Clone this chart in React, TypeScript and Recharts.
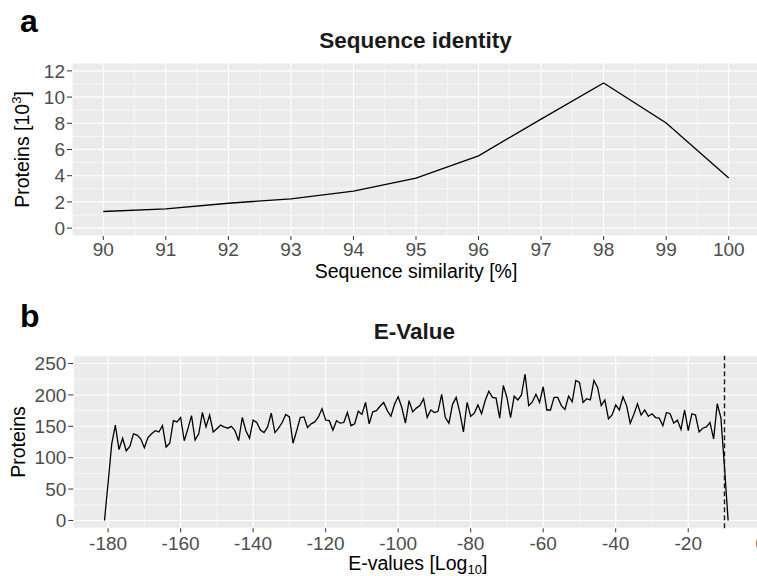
import React from 'react';
import { LineChart, Line, XAxis, YAxis, CartesianGrid, ReferenceLine, Label } from 'recharts';

const FONT = '"Liberation Sans", Arial, Helvetica, sans-serif';

// Panel a: Sequence identity
const seqSimilarity = [90, 91, 92, 93, 94, 95, 96, 97, 98, 99, 100];
const proteinsThousands = [1.27, 1.47, 1.9, 2.24, 2.82, 3.82, 5.52, 8.32, 11.07, 8.02, 3.82];
const seqXTicks = [90, 91, 92, 93, 94, 95, 96, 97, 98, 99, 100];
const seqXMinor = [90.5, 91.5, 92.5, 93.5, 94.5, 95.5, 96.5, 97.5, 98.5, 99.5];
const seqYTicks = [0, 2, 4, 6, 8, 10, 12];
const seqYMinor = [1, 3, 5, 7, 9, 11];

// Panel b: E-Value
const eLog = [
  -181, -180, -179, -178, -177, -176, -175, -174, -173, -172,
  -171, -170, -169, -168, -167, -166, -165, -164, -163, -162,
  -161, -160, -159, -158, -157, -156, -155, -154, -153, -152,
  -151, -150, -149, -148, -147, -146, -145, -144, -143, -142,
  -141, -140, -139, -138, -137, -136, -135, -134, -133, -132,
  -131, -130, -129, -128, -127, -126, -125, -124, -123, -122,
  -121, -120, -119, -118, -117, -116, -115, -114, -113, -112,
  -111, -110, -109, -108, -107, -106, -105, -104, -103, -102,
  -101, -100, -99, -98, -97, -96, -95, -94, -93, -92,
  -91, -90, -89, -88, -87, -86, -85, -84, -83, -82,
  -81, -80, -79, -78, -77, -76, -75, -74, -73, -72,
  -71, -70, -69, -68, -67, -66, -65, -64, -63, -62,
  -61, -60, -59, -58, -57, -56, -55, -54, -53, -52,
  -51, -50, -49, -48, -47, -46, -45, -44, -43, -42,
  -41, -40, -39, -38, -37, -36, -35, -34, -33, -32,
  -31, -30, -29, -28, -27, -26, -25, -24, -23, -22,
  -21, -20, -19, -18, -17, -16, -15, -14, -13, -12,
  -11, -10, -9,
];
const eProteins = [
  0, 60, 122, 152, 113, 131, 111, 118, 138, 136,
  130, 116, 132, 138, 143, 141, 151, 117, 123, 159,
  157, 164, 127, 146, 167, 128, 138, 172, 149, 168,
  141, 146, 152, 149, 147, 150, 143, 127, 164, 143,
  131, 160, 156, 144, 140, 149, 171, 140, 147, 156,
  169, 165, 123, 143, 164, 165, 148, 154, 157, 165,
  178, 160, 159, 144, 159, 155, 156, 172, 151, 154,
  174, 169, 188, 154, 173, 175, 182, 188, 175, 166,
  185, 197, 180, 155, 191, 173, 179, 183, 194, 164,
  176, 172, 174, 201, 164, 155, 185, 196, 172, 141,
  188, 166, 171, 184, 170, 191, 206, 196, 195, 163,
  215, 196, 164, 198, 192, 200, 233, 183, 189, 201,
  188, 213, 176, 176, 196, 196, 183, 177, 198, 189,
  223, 220, 188, 194, 192, 223, 212, 183, 192, 162,
  168, 184, 176, 197, 183, 155, 169, 186, 168, 176,
  166, 170, 164, 163, 151, 172, 170, 155, 160, 145,
  176, 143, 170, 168, 141, 147, 149, 156, 130, 186,
  164, 85, 0,
];
const eXTicks = [-180, -160, -140, -120, -100, -80, -60, -40, -20, 0];
const eXMinor = [-170, -150, -130, -110, -90, -70, -50, -30, -10];
const eYTicks = [0, 50, 100, 150, 200, 250];
const eYMinor = [25, 75, 125, 175, 225];
const eCutoff = -10;

const seqData = seqSimilarity.map((x, i) => ({ x, y: proteinsThousands[i] }));
const eData = eLog.map((x, i) => ({ x, y: eProteins[i] }));

const PANEL_BG = '#EBEBEB';
const TICK_TEXT = { fill: '#4D4D4D', fontSize: 19, fontFamily: FONT };
const TICK_LINE = { stroke: '#333333', strokeWidth: 1 };

function minorLines(vals: number[], axis: 'x' | 'y') {
  return vals.map((v) =>
    axis === 'x' ? (
      <ReferenceLine key={'mx' + v} x={v} stroke="#FFFFFF" strokeWidth={0.6} zIndex={-50} />
    ) : (
      <ReferenceLine key={'my' + v} y={v} stroke="#FFFFFF" strokeWidth={0.6} zIndex={-50} />
    )
  );
}

export default function App() {
  return (
    <div
      style={{
        position: 'absolute',
        left: 0,
        top: 0,
        width: 757,
        height: 576,
        overflow: 'hidden',
        background: '#FFFFFF',
        fontFamily: FONT,
      }}
    >
      <div style={{ position: 'absolute', left: 0, top: 0 }}>
        <LineChart width={770} height={290} data={seqData} margin={{ top: 63, right: 10, bottom: 0, left: 0 }}>
          <CartesianGrid fill={PANEL_BG} stroke="#FFFFFF" strokeWidth={1.1} strokeDasharray="" />
          {minorLines(seqXMinor, 'x')}
          {minorLines(seqYMinor, 'y')}
          <XAxis
            dataKey="x"
            type="number"
            domain={[89.5, 100.5]}
            ticks={seqXTicks}
            interval={0}
            allowDataOverflow
            height={54}
            axisLine={false}
            tickLine={TICK_LINE}
            tickSize={4}
            tickMargin={3}
            tick={TICK_TEXT}
          >
            <Label
              content={(props: any) => {
                const vb = props.viewBox || { x: 72, y: 236, width: 688 };
                return (
                  <text x={vb.x + vb.width / 2} y={vb.y + 42} textAnchor="middle" fontSize={19.5} fontFamily={FONT} fill="#000">
                    Sequence similarity [%]
                  </text>
                );
              }}
            />
          </XAxis>
          <YAxis
            type="number"
            domain={[-0.6, 12.6]}
            ticks={seqYTicks}
            interval={0}
            allowDataOverflow
            width={72}
            axisLine={false}
            tickLine={TICK_LINE}
            tickSize={5}
            tickMargin={2}
            tick={TICK_TEXT}
          >
            <Label
              content={(props: any) => {
                const vb = props.viewBox || { x: 0, y: 63, width: 72, height: 173 };
                const cx = 29;
                const cy = vb.y + vb.height / 2;
                return (
                  <text x={cx} y={cy} transform={`rotate(-90, ${cx}, ${cy})`} textAnchor="middle" fontSize={19.5} fontFamily={FONT} fill="#000">
                    Proteins [10
                    <tspan fontSize={13} dy={-8}>3</tspan>
                    <tspan dy={8}>]</tspan>
                  </text>
                );
              }}
            />
          </YAxis>
          <Line type="linear" dataKey="y" stroke="#000000" strokeWidth={1.3} dot={false} activeDot={false} isAnimationActive={false} />
        </LineChart>
      </div>

      <div style={{ position: 'absolute', left: 0, top: 290 }}>
        <LineChart width={775} height={286} data={eData} margin={{ top: 65.7, right: 12.8, bottom: 0, left: 0 }}>
          <CartesianGrid fill={PANEL_BG} stroke="#FFFFFF" strokeWidth={1.1} strokeDasharray="" />
          {minorLines(eXMinor, 'x')}
          {minorLines(eYMinor, 'y')}
          <XAxis
            dataKey="x"
            type="number"
            domain={[-189.6, 0.4]}
            ticks={eXTicks}
            interval={0}
            allowDataOverflow
            height={47.7}
            axisLine={false}
            tickLine={TICK_LINE}
            tickSize={4}
            tickMargin={4}
            tick={TICK_TEXT}
          >
            <Label
              content={(props: any) => {
                const vb = props.viewBox || { x: 73.3, y: 238.3, width: 688.9 };
                return (
                  <text x={vb.x + vb.width / 2} y={vb.y + 42} textAnchor="middle" fontSize={19.5} fontFamily={FONT} fill="#000">
                    E-values [Log
                    <tspan fontSize={13} dy={4}>10</tspan>
                    <tspan dy={-4}>]</tspan>
                  </text>
                );
              }}
            />
          </XAxis>
          <YAxis
            type="number"
            domain={[-12.5, 262.5]}
            ticks={eYTicks}
            interval={0}
            allowDataOverflow
            width={73.3}
            axisLine={false}
            tickLine={TICK_LINE}
            tickSize={5}
            tickMargin={2}
            tick={TICK_TEXT}
          >
            <Label
              content={(props: any) => {
                const vb = props.viewBox || { x: 0, y: 65.7, width: 73.3, height: 172.6 };
                const cx = 24.5;
                const cy = vb.y + vb.height / 2;
                return (
                  <text x={cx} y={cy} transform={`rotate(-90, ${cx}, ${cy})`} textAnchor="middle" fontSize={19.5} fontFamily={FONT} fill="#000">
                    Proteins
                  </text>
                );
              }}
            />
          </YAxis>
          <Line type="linear" dataKey="y" stroke="#000000" strokeWidth={1.3} dot={false} activeDot={false} isAnimationActive={false} />
          <ReferenceLine x={eCutoff} stroke="#1A1A1A" strokeWidth={1.4} strokeDasharray="5 3" />
        </LineChart>
      </div>

      <svg width={757} height={576} style={{ position: 'absolute', left: 0, top: 0, pointerEvents: 'none' }}>
        <text x={20} y={31.7} fontSize={32} fontWeight="bold" fontFamily={FONT} fill="#000">a</text>
        <text x={415.5} y={47.8} textAnchor="middle" fontSize={22.5} fontWeight="bold" fontFamily={FONT} fill="#1A1A1A">
          Sequence identity
        </text>
        <text x={20} y={326.7} fontSize={32} fontWeight="bold" fontFamily={FONT} fill="#000">b</text>
        <text x={414.5} y={339.3} textAnchor="middle" fontSize={22.5} fontWeight="bold" fontFamily={FONT} fill="#1A1A1A">
          E-Value
        </text>
      </svg>
    </div>
  );
}
